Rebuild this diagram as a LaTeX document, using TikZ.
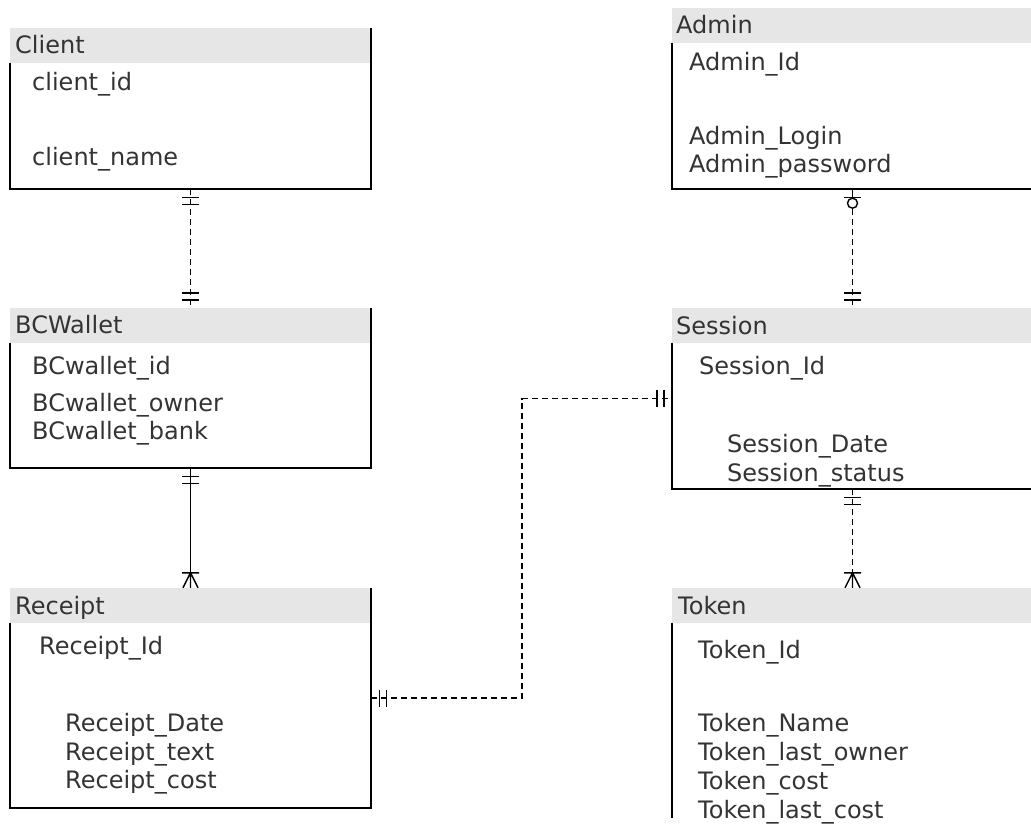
\documentclass[tikz,border=0pt]{standalone}
\usepackage{fontspec}
\setmainfont{DejaVu Sans}
\usetikzlibrary{calc}
\definecolor{hdrgray}{HTML}{E6E6E6}
\definecolor{txtgray}{HTML}{333333}

\begin{document}
\begin{tikzpicture}[x=1pt,y=-1pt,
  entity/.style={draw=none, rectangle, inner sep=0pt, minimum width=361pt},
  boxline/.style={line width=1.6pt, black},
  field/.style={anchor=base west, inner sep=0pt, text=txtgray, font=\fontsize{24}{28}\selectfont},
  conn/.style={line width=1.4pt, black},
  dashconn/.style={conn, dash pattern=on 6pt off 4pt},
  pics/mandone/.style={code={\draw[conn] (-8.5,8)--(8.5,8) (-8.5,15)--(8.5,15);}},
  pics/zeroone/.style={code={\draw[conn] (-8.5,8)--(8.5,8) (0,0)--(0,9);
                              \draw[conn,fill=white] (0,14) circle[radius=5pt];}},
  pics/onemany/.style={code={\draw[conn] (-8.5,15)--(8.5,15) (0,15)--(-7.5,0) (0,15)--(0,0) (0,15)--(7.5,0);}},
]
\useasboundingbox (0,0) rectangle (1031,827);
\clip (0,0) rectangle (1031,827);

% entity boxes
\node[entity, minimum height=161pt] (client)   at (190.5,108.5) {};
\node[entity, minimum height=160pt] (bcwallet) at (190.5,388) {};
\node[entity, minimum height=220pt] (receipt)  at (190.5,698) {};
\node[entity, minimum height=181pt] (admin)    at (852.5,98.5) {};
\node[entity, minimum height=181pt] (session)  at (852.5,398.5) {};
\node[entity, minimum height=230pt] (token)    at (852.5,703) {};

\foreach \e in {client,bcwallet,receipt,admin,session}{
  \fill[hdrgray] (\e.north west) rectangle ($(\e.north east)+(0,35)$);
  \draw[boxline] ($(\e.north west)+(0,35)$) -- (\e.south west) -- (\e.south east) -- (\e.north east);
}
\fill[hdrgray] (token.north west) rectangle ($(token.north east)+(0,35)$);
\draw[boxline] ($(token.north west)+(0,35)$) -- (token.south west);

% Client
\node[field] (clientT) at (15,53) {Client};
\node[field] (clientA) at (32,90) {client\_id};
\node[field] (clientB) at (32,165) {client\_name};

% BCWallet
\node[field] (bcwT) at (15,333) {BCWallet};
\node[field] (bcwA) at (32,374) {BCwallet\_id};
\node[field] (bcwB) at (32,411) {BCwallet\_owner};
\node[field] (bcwC) at (32,439) {BCwallet\_bank};

% Receipt
\node[field] (recT) at (15,614) {Receipt};
\node[field] (recA) at (39,654) {Receipt\_Id};
\node[field] (recB) at (65,731) {Receipt\_Date};
\node[field] (recC) at (65,760) {Receipt\_text};
\node[field] (recD) at (65,788) {Receipt\_cost};

% Admin
\node[field] (admT) at (676,33) {Admin};
\node[field] (admA) at (689,70) {Admin\_Id};
\node[field] (admB) at (689,144) {Admin\_Login};
\node[field] (admC) at (689,172) {Admin\_password};

% Session
\node[field] (sesT) at (676,334) {Session};
\node[field] (sesA) at (699,374) {Session\_Id};
\node[field] (sesB) at (727,452) {Session\_Date};
\node[field] (sesC) at (727,481) {Session\_status};

% Token
\node[field] (tokT) at (678,614) {Token};
\node[field] (tokA) at (698,658) {Token\_Id};
\node[field] (tokB) at (698,731) {Token\_Name};
\node[field] (tokC) at (698,760) {Token\_last\_owner};
\node[field] (tokD) at (698,789) {Token\_cost};
\node[field] (tokE) at (698,818) {Token\_last\_cost};

% relationships
\draw[dashconn] (client.south) -- (bcwallet.north);
\pic at (client.south) {mandone};
\pic[rotate=180] at (bcwallet.north) {mandone};

\draw[conn] (bcwallet.south) -- (receipt.north);
\pic at (bcwallet.south) {mandone};
\pic[rotate=180] at (receipt.north) {onemany};

\draw[dashconn] (admin.south) -- (session.north);
\pic at (admin.south) {zeroone};
\pic[rotate=180] at (session.north) {mandone};

\draw[dashconn] (session.south) -- (token.north);
\pic at (session.south) {mandone};
\pic[rotate=180] at (token.north) {onemany};

\coordinate (jog) at (522,398.5);
\draw[dashconn] (receipt.east) -| (jog) -- (session.west);
\pic[rotate=90] at (receipt.east) {mandone};
\pic[rotate=-90] at (session.west) {mandone};
\end{tikzpicture}
\end{document}
